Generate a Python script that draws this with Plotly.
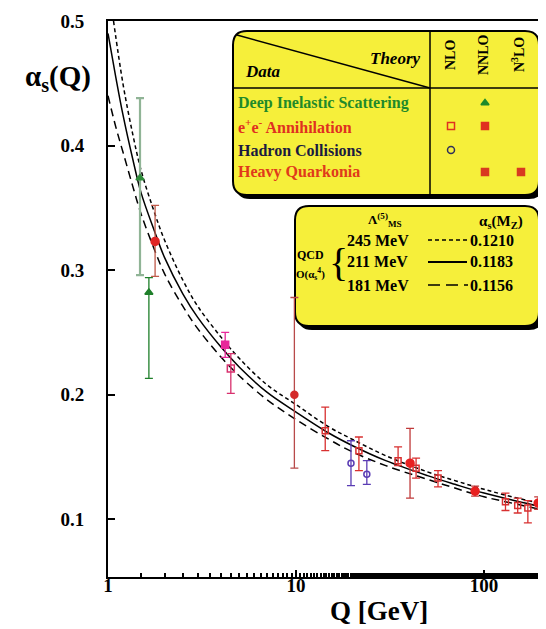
import plotly.graph_objects as go

# ---------------- data ----------------
# QCD curves (Lambda_MSbar^(5) = 245, 211, 181 MeV)
q_hi = [1.07, 1.2, 1.35, 1.5, 1.75, 2.0, 2.5, 3.0, 4.0, 5.0, 7.0, 10.0, 15.0, 20.0, 30.0, 50.0, 70.0, 100.0, 150.0, 240.0]
a_hi = [0.500, 0.450, 0.410, 0.380, 0.348, 0.324, 0.292, 0.271, 0.246, 0.229, 0.208, 0.192, 0.174, 0.164, 0.151, 0.138, 0.131, 0.124, 0.117, 0.110]
q_mid = [1.0, 1.1, 1.2, 1.35, 1.5, 1.75, 2.0, 2.5, 3.0, 4.0, 5.0, 7.0, 10.0, 15.0, 20.0, 30.0, 50.0, 70.0, 100.0, 150.0, 240.0]
a_mid = [0.490, 0.455, 0.425, 0.390, 0.362, 0.333, 0.310, 0.281, 0.262, 0.238, 0.222, 0.202, 0.186, 0.169, 0.159, 0.147, 0.135, 0.128, 0.121, 0.1145, 0.1075]
q_lo = [1.0, 1.1, 1.2, 1.35, 1.5, 1.75, 2.0, 2.5, 3.0, 4.0, 5.0, 7.0, 10.0, 15.0, 20.0, 30.0, 50.0, 70.0, 100.0, 150.0, 240.0]
a_lo = [0.440, 0.415, 0.395, 0.368, 0.345, 0.318, 0.297, 0.271, 0.253, 0.230, 0.215, 0.196, 0.180, 0.164, 0.154, 0.143, 0.132, 0.125, 0.118, 0.112, 0.105]

# Deep inelastic scattering
dis_q = [1.48, 1.65]
dis_a = [0.374, 0.282]
dis_up = [0.064, 0.012]
dis_dn = [0.078, 0.069]

# tau decays (e+e-)
tau_q = [1.78]
tau_a = [0.323]
tau_up = [0.029]
tau_dn = [0.028]

# heavy quarkonia (magenta)
hq_q = [4.2, 4.5]
hq_a = [0.240, 0.221]
hq_up = [0.010, 0.012]
hq_dn = [0.010, 0.020]

# heavy quarkonia Upsilon at ~10 GeV
ups_q = [9.8]
ups_a = [0.200]
ups_up = [0.078]
ups_dn = [0.059]

# e+e- open points
ee_open_q = [14.3, 21.6, 34.9, 43.5, 56.9, 130.0, 151.0, 171.0]
ee_open_a = [0.171, 0.155, 0.147, 0.141, 0.133, 0.114, 0.111, 0.109]
ee_open_up = [0.019, 0.011, 0.011, 0.008, 0.006, 0.007, 0.006, 0.006]
ee_open_dn = [0.016, 0.016, 0.004, 0.008, 0.007, 0.007, 0.006, 0.012]

# e+e- filled points
ee_fill_q = [40.4, 89.6, 194.0, 214.0]
ee_fill_a = [0.145, 0.1225, 0.113, 0.112]
ee_fill_up = [0.028, 0.004, 0.005, 0.005]
ee_fill_dn = [0.028, 0.004, 0.005, 0.005]

# hadron collisions
had_q = [19.6, 23.8]
had_a = [0.145, 0.136]
had_up = [0.018, 0.011]
had_dn = [0.018, 0.008]

y_ticks = [0.1, 0.2, 0.3, 0.4, 0.5]
y_tick_text = ["0.1", "0.2", "0.3", "0.4", "0.5"]
x_ticks = [1, 10, 100]
x_tick_text = ["1", "10", "100"]

legend_rows = ["Deep Inelastic Scattering", "e<sup>+</sup>e<sup>-</sup> Annihilation",
               "Hadron Collisions", "Heavy Quarkonia"]
legend_cols = ["NLO", "NNLO", "N<sup>3</sup>LO"]
lam_rows = ["245 MeV", "211 MeV", "181 MeV"]
amz_rows = ["0.1210", "0.1183", "0.1156"]

# ---------------- layout helpers ----------------
W, H = 546, 629
L, R, T, B = 100, 546, 13, 569
FONT = "Liberation Serif, Times New Roman, serif"
YEL = "#f6ef3a"


def px(x):
    return (x - L) / (R - L)


def py(y):
    return (B - y) / (B - T)


def rrect(x0, y0, x1, y1, r):
    pts = [
        f"M {px(x0 + r)},{py(y0)}",
        f"L {px(x1 - r)},{py(y0)}",
        f"Q {px(x1)},{py(y0)} {px(x1)},{py(y0 + r)}",
        f"L {px(x1)},{py(y1 - r)}",
        f"Q {px(x1)},{py(y1)} {px(x1 - r)},{py(y1)}",
        f"L {px(x0 + r)},{py(y1)}",
        f"Q {px(x0)},{py(y1)} {px(x0)},{py(y1 - r)}",
        f"L {px(x0)},{py(y0 + r)}",
        f"Q {px(x0)},{py(y0)} {px(x0 + r)},{py(y0)}",
        "Z",
    ]
    return " ".join(pts)


fig = go.Figure()


def errtrace(q, a, up, dn, color, symbol, size, barcolor=None, width=1.3):
    fig.add_trace(go.Scatter(
        x=q, y=a, mode="markers",
        marker=dict(symbol=symbol, size=size, color=color,
                    line=dict(color=color, width=1.5)),
        error_y=dict(type="data", symmetric=False, array=up, arrayminus=dn,
                     color=barcolor or color, thickness=width, width=4),
        showlegend=False, hoverinfo="skip"))


# curves
fig.add_trace(go.Scatter(x=q_hi, y=a_hi, mode="lines", line=dict(color="black", width=1.5, dash="4px,3px", shape="spline"), showlegend=False))
fig.add_trace(go.Scatter(x=q_mid, y=a_mid, mode="lines", line=dict(color="black", width=1.5, shape="spline"), showlegend=False))
fig.add_trace(go.Scatter(x=q_lo, y=a_lo, mode="lines", line=dict(color="black", width=1.5, dash="8px,5px", shape="spline"), showlegend=False))

# data
errtrace([dis_q[1]], [dis_a[1]], [dis_up[1]], [dis_dn[1]], "#1f7f2a", "triangle-up", 7)
errtrace([dis_q[0]], [dis_a[0]], [dis_up[0]], [dis_dn[0]], "#2e8b3a", "triangle-up", 7, barcolor="#90b496", width=2.2)
errtrace(tau_q, tau_a, tau_up, tau_dn, "#e02424", "circle", 8, barcolor="#c05a4a")
errtrace([hq_q[0]], [hq_a[0]], [hq_up[0]], [hq_dn[0]], "#e8289a", "square", 7)
errtrace([hq_q[1]], [hq_a[1]], [hq_up[1]], [hq_dn[1]], "#d8306e", "square-open", 7)
errtrace(ups_q, ups_a, ups_up, ups_dn, "#d42a2a", "circle", 7, barcolor="#b84a4a")
errtrace(had_q, had_a, had_up, had_dn, "#5a3cb4", "circle-open", 6)
errtrace(ee_open_q, ee_open_a, ee_open_up, ee_open_dn, "#d83030", "square-open", 6)
errtrace(ee_fill_q, ee_fill_a, ee_fill_up, ee_fill_dn, "#e82020", "circle", 8, barcolor="#c03a3a")

# legend symbols on an overlay pixel axis
sym_x = [477, 443, 477, 443, 477, 513]
sym_y = [95, 118, 118, 142, 164, 164]
sym_s = ["triangle-up", "square-open", "square", "circle-open", "square", "square"]
sym_c = ["#1f8a2a", "#e03020", "#e03020", "#30305a", "#d83a20", "#d83a20"]
fig.add_trace(go.Scatter(x=sym_x, y=sym_y, mode="markers", xaxis="x2", yaxis="y2",
                         marker=dict(symbol=sym_s, color=sym_c, size=7,
                                     line=dict(color=sym_c, width=1.5)),
                         showlegend=False, hoverinfo="skip"))
# legend line samples
fig.add_trace(go.Scatter(x=[420, 459], y=[232, 232], mode="lines", xaxis="x2", yaxis="y2",
                         line=dict(color="black", width=1.5, dash="4px,3px"), showlegend=False))
fig.add_trace(go.Scatter(x=[420, 459], y=[254, 254], mode="lines", xaxis="x2", yaxis="y2",
                         line=dict(color="black", width=1.8), showlegend=False))
fig.add_trace(go.Scatter(x=[420, 460], y=[277, 277], mode="lines", xaxis="x2", yaxis="y2",
                         line=dict(color="black", width=1.5, dash="12px,6px"), showlegend=False))

shapes = []
# box 1 with shadow
shapes.append(dict(type="path", path=rrect(228, 26, 535, 191, 14), xref="paper", yref="paper",
                   fillcolor="black", line=dict(width=0), layer="below"))
shapes.append(dict(type="path", path=rrect(225, 23, 531, 187, 14), xref="paper", yref="paper",
                   fillcolor=YEL, line=dict(color="black", width=2), layer="below"))
shapes.append(dict(type="line", x0=px(422), x1=px(422), y0=py(23), y1=py(187), xref="paper", yref="paper",
                   line=dict(color="black", width=1.5), layer="below"))
shapes.append(dict(type="line", x0=px(225), x1=px(531), y0=py(80), y1=py(80), xref="paper", yref="paper",
                   line=dict(color="black", width=1.5), layer="below"))
shapes.append(dict(type="line", x0=px(229), x1=px(422), y0=py(27), y1=py(80), xref="paper", yref="paper",
                   line=dict(color="black", width=1.5), layer="below"))
# box 2 with shadow
shapes.append(dict(type="path", path=rrect(290, 201, 535, 322, 14), xref="paper", yref="paper",
                   fillcolor="black", line=dict(width=0), layer="below"))
shapes.append(dict(type="path", path=rrect(287, 198, 531, 318, 14), xref="paper", yref="paper",
                   fillcolor=YEL, line=dict(color="black", width=2), layer="below"))

ann = []


def txt(x, y, s, size=14, color="black", xanchor="left", angle=0):
    ann.append(dict(x=px(x), y=py(y), xref="paper", yref="paper", text=s, showarrow=False,
                    xanchor=xanchor, yanchor="middle", textangle=angle, borderpad=0,
                    font=dict(family=FONT, size=size, color=color)))


txt(387, 50, "<b><i>Theory</i></b>", 17, xanchor="center")
txt(255, 64, "<b><i>Data</i></b>", 17, xanchor="center")
for i, c in enumerate(legend_cols):
    txt([443, 476, 510][i], 47, "<b>" + c + "</b>", 14, xanchor="center", angle=-90)
row_cols = ["#1f8a2a", "#e03020", "#1a1a40", "#e03a1a"]
for i, r in enumerate(legend_rows):
    txt(229, [95, 118, 142, 164][i], "<b>" + r + "</b>", 16, row_cols[i])

txt(377, 212, "<b>Λ<sup>(5)</sup><sub>MS</sub></b>", 13, xanchor="center")
txt(493, 214, "<b>α<sub>s</sub>(M<sub>Z</sub>)</b>", 15, xanchor="center")
txt(302, 247, "<b>QCD</b>", 12, xanchor="center")
txt(302, 266, "<b>O(α<sub>s</sub><sup>4</sup>)</b>", 11, xanchor="center")
txt(330, 255, "{", 40, xanchor="center")
for i in range(3):
    txt(338, [232, 254, 277][i], "<b>" + lam_rows[i] + "</b>", 16)
    txt(461, [232, 254, 277][i], "<b>" + amz_rows[i] + "</b>", 16)

txt(50, 70, "<b>α<sub>s</sub>(Q)</b>", 29, xanchor="center")
txt(371, 603, "<b>Q [GeV]</b>", 27, xanchor="center")

fig.update_layout(
    width=W, height=H,
    margin=dict(l=L, r=W - R, t=T, b=H - B, pad=0),
    paper_bgcolor="white", plot_bgcolor="white",
    showlegend=False,
    shapes=shapes, annotations=ann,
    xaxis=dict(type="log", range=[0, 2.372], tickvals=x_ticks,
               ticktext=["<b>" + t + "</b>" for t in x_tick_text],
               ticks="inside", ticklen=7, tickwidth=1.5, tickcolor="black",
               showline=True, linecolor="black", linewidth=2, mirror=True,
               showgrid=False, zeroline=False,
               tickfont=dict(family=FONT, size=19, color="black"),
               ticklabelstandoff=-10,
               minor=dict(ticks="inside", ticklen=4, tickcolor="black", showgrid=False)),
    yaxis=dict(range=[0.0536, 0.5], tickvals=y_ticks,
               ticktext=["<b>" + t + "</b>" for t in y_tick_text],
               ticks="inside", ticklen=7, tickwidth=1.5, tickcolor="black",
               showline=True, linecolor="black", linewidth=2,
               showgrid=False, zeroline=False,
               tickfont=dict(family=FONT, size=19, color="black"),
               ticklabelstandoff=18),
    xaxis2=dict(overlaying="x", range=[L, R], visible=False, fixedrange=True),
    yaxis2=dict(overlaying="y", range=[B, T], visible=False, fixedrange=True),
)
fig.write_html("out.html")
